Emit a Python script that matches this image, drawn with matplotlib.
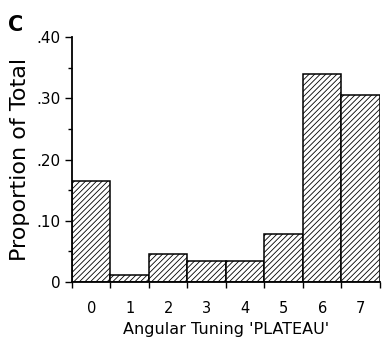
import matplotlib
matplotlib.use("Agg")
import matplotlib.pyplot as plt
import numpy as np

categories = ["0", "1", "2", "3", "4", "5", "6", "7"]
proportions = [0.165, 0.012, 0.045, 0.034, 0.034, 0.079, 0.339, 0.306]
ytick_vals = [0, 0.10, 0.20, 0.30, 0.40]
ytick_labels = ["0", ".10", ".20", ".30", ".40"]

plt.rcParams['hatch.linewidth'] = 0.6
fig = plt.figure(figsize=(3.84, 3.42), dpi=100)
ax = fig.add_axes([0.1875, 0.1754, 0.802, 0.7164])

x = np.arange(len(categories))
ax.bar(x, proportions, width=1.0, facecolor="white", edgecolor="black",
       linewidth=1.1, hatch="//////")

ax.set_xlim(-0.5, len(categories) - 0.5)
ax.set_ylim(0, 0.40)
ax.spines['top'].set_visible(False)
ax.spines['right'].set_visible(False)
ax.spines['left'].set_linewidth(1.3)
ax.spines['bottom'].set_linewidth(1.3)

ax.set_yticks(ytick_vals)
ax.set_yticklabels(ytick_labels, fontsize=11)
ax.set_yticks(np.arange(0.05, 0.40, 0.10), minor=True)
ax.tick_params(axis='y', which='major', direction='out', length=5, width=1)
ax.tick_params(axis='y', which='minor', direction='out', length=3, width=1)

ax.set_xticks(np.arange(-0.5, len(categories), 1.0))
ax.set_xticklabels([])
ax.set_xticks(x, minor=True)
ax.set_xticklabels(categories, minor=True, fontsize=10.5)
ax.tick_params(axis='x', which='major', direction='out', length=4, width=1)
ax.tick_params(axis='x', which='minor', length=0, pad=14)

ax.set_ylabel("Proportion of Total", fontsize=16, labelpad=4)
ax.set_xlabel("Angular Tuning 'PLATEAU'", fontsize=11.5, labelpad=4)

fig.text(0.02, 0.955, "C", fontsize=15, fontweight="bold", va="top", ha="left")

fig.savefig("out.png", dpi=100)
